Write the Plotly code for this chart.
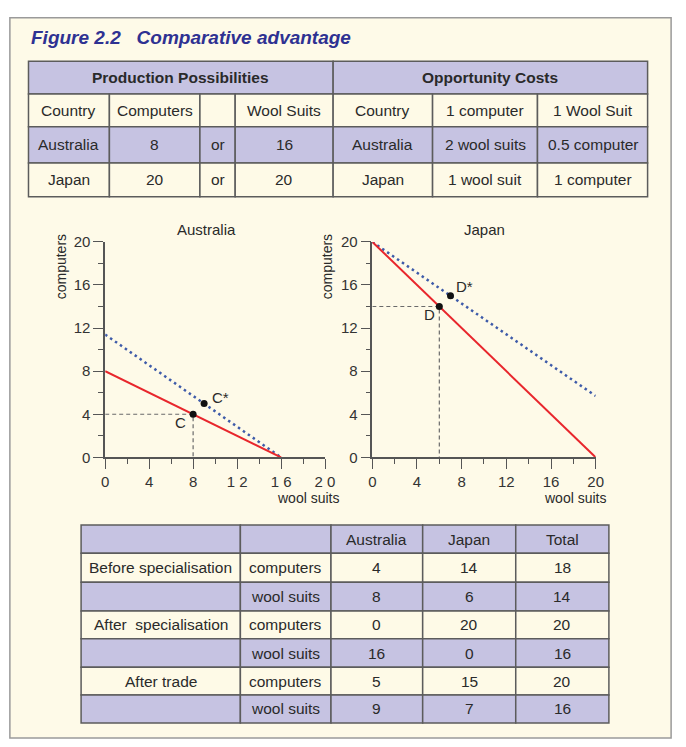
import plotly.graph_objects as go

W, H = 686, 747

# ---------------- data ----------------
title_text = "Figure 2.2   Comparative advantage"

top_header = ["Production Possibilities", "Opportunity Costs"]
top_rows = [
    ["Country", "Computers", "", "Wool Suits", "Country", "1 computer", "1 Wool Suit"],
    ["Australia", "8", "or", "16", "Australia", "2 wool suits", "0.5 computer"],
    ["Japan", "20", "or", "20", "Japan", "1 wool suit", "1 computer"],
]

bottom_header = ["", "", "Australia", "Japan", "Total"]
bottom_rows = [
    ["Before specialisation", "computers", "4", "14", "18"],
    ["", "wool suits", "8", "6", "14"],
    ["After  specialisation", "computers", "0", "20", "20"],
    ["", "wool suits", "16", "0", "16"],
    ["After trade", "computers", "5", "15", "20"],
    ["", "wool suits", "9", "7", "16"],
]

# Australia PPF and trade line (wool suits, computers)
aus_ppf_wool = [0, 16]
aus_ppf_comp = [8, 0]
aus_trade_wool = [0, 16]
aus_trade_comp = [11.4, 0]
aus_C = (8, 4)
aus_Cstar = (9, 5)

# Japan PPF and trade line
jap_ppf_wool = [0, 20]
jap_ppf_comp = [20, 0]
jap_trade_wool = [0, 20]
jap_trade_comp = [20, 5.7]
jap_D = (6, 14)
jap_Dstar = (7, 15)

tick_vals = [0, 4, 8, 12, 16, 20]
tick_text = ["0", "4", "8", "12", "16", "20"]
aus_x_tick_text = ["0", "4", "8", "1 2", "1 6", "2 0"]

# ---------------- styling ----------------
LAV = "#C6C3E2"
CREAM = "#FEFAE7"
BG = "#FEFAE8"
BORDER = "#5c5c5c"
AXC = "#555555"
TXT = "#2a2a2a"
FONT = "Liberation Sans, Arial, sans-serif"
RED = "#E8262C"
BLUE = "#3E5BA9"
TS = 15.5  # table font size


def px(x):
    return x / W


def py(y):
    return 1 - y / H


shapes = []
annotations = []

# outer panel
shapes.append(dict(type="rect", xref="paper", yref="paper",
                   x0=px(6), x1=px(681), y0=py(746), y1=py(9),
                   fillcolor=BG, line=dict(color="#9a9a9a", width=1.5), layer="below"))

annotations.append(dict(x=px(26), y=py(29), xref="paper", yref="paper",
                        text="<b><i>" + title_text.replace(" ", "&nbsp;") + "</i></b>",
                        showarrow=False, xanchor="left", yanchor="middle",
                        font=dict(family=FONT, size=19, color="#2E3192")))


def cell(x0, x1, y0, y1, fill, text, size=TS, bold=False):
    shapes.append(dict(type="rect", xref="paper", yref="paper",
                       x0=px(x0), x1=px(x1), y0=py(y1), y1=py(y0),
                       fillcolor=fill, line=dict(color=BORDER, width=1.5), layer="below"))
    if text:
        t = "<b>" + text + "</b>" if bold else text
        annotations.append(dict(x=px((x0 + x1) / 2), y=py((y0 + y1) / 2),
                                xref="paper", yref="paper", text=t.replace("  ", "&nbsp;&nbsp;"),
                                showarrow=False, xanchor="center", yanchor="middle",
                                font=dict(family=FONT, size=size, color=TXT)))


# top table
tcols = [25, 107.6, 200, 236, 336, 437.5, 544.6, 657]
trows = [53.5, 87, 120.5, 157.5, 192]
cell(tcols[0], tcols[4], trows[0], trows[1], LAV, top_header[0], TS, True)
cell(tcols[4], tcols[7], trows[0], trows[1], LAV, top_header[1], TS, True)
for r, row in enumerate(top_rows):
    fill = LAV if r == 1 else CREAM
    for c, txt in enumerate(row):
        cell(tcols[c], tcols[c + 1], trows[r + 1], trows[r + 2], fill, txt)

# bottom table
bcols = [78.7, 241.3, 333.8, 427.4, 522.4, 617.5]
brows = [528, 557, 586.5, 616, 644.5, 673.5, 702, 730.5]
for c, txt in enumerate(bottom_header):
    cell(bcols[c], bcols[c + 1], brows[0], brows[1], LAV, txt)
for r, row in enumerate(bottom_rows):
    fill = CREAM if r % 2 == 0 else LAV
    for c, txt in enumerate(row):
        cell(bcols[c], bcols[c + 1], brows[r + 1], brows[r + 2], fill, txt)

# ---------------- charts ----------------
fig = go.Figure()


def add_chart(xa, ya, ppf_w, ppf_c, tr_w, tr_c, P, Pstar):
    fig.add_trace(go.Scatter(x=[0, P[0], P[0]], y=[P[1], P[1], 0], mode="lines",
                             line=dict(color="#6a6a6a", width=1.2, dash="4px,3px"),
                             xaxis=xa, yaxis=ya, hoverinfo="skip"))
    fig.add_trace(go.Scatter(x=tr_w, y=tr_c, mode="lines",
                             line=dict(color=BLUE, width=2.5, dash="2.5px,3.5px"),
                             xaxis=xa, yaxis=ya))
    fig.add_trace(go.Scatter(x=ppf_w, y=ppf_c, mode="lines",
                             line=dict(color=RED, width=2),
                             xaxis=xa, yaxis=ya))
    fig.add_trace(go.Scatter(x=[P[0], Pstar[0]], y=[P[1], Pstar[1]], mode="markers",
                             marker=dict(color="#111111", size=7),
                             xaxis=xa, yaxis=ya))


add_chart("x", "y", aus_ppf_wool, aus_ppf_comp, aus_trade_wool, aus_trade_comp, aus_C, aus_Cstar)
add_chart("x2", "y2", jap_ppf_wool, jap_ppf_comp, jap_trade_wool, jap_trade_comp, jap_D, jap_Dstar)

axis_common = dict(range=[0, 20], tickvals=tick_vals, ticktext=tick_text,
                   showgrid=False, zeroline=False,
                   showline=True, linecolor=AXC, linewidth=1.5,
                   ticks="outside", ticklen=10, tickwidth=1.3, tickcolor=AXC,
                   tickfont=dict(family=FONT, size=15, color="#333333"),
                   minor=dict(dtick=2, tick0=0, ticks="outside", ticklen=5, tickwidth=1.2,
                              tickcolor=AXC, showgrid=False),
                   fixedrange=True)

ydom = [py(458.8), py(238.3)]
fig.update_layout(
    xaxis=dict(axis_common, domain=[px(103.3), px(327.7)], anchor="y", ticktext=aus_x_tick_text),
    yaxis=dict(axis_common, domain=ydom, anchor="x"),
    xaxis2=dict(axis_common, domain=[px(376), px(604)], anchor="y2"),
    yaxis2=dict(axis_common, domain=ydom, anchor="x2"),
)


# point labels
def pt_label(xa, ya, P, text, xanchor, xshift, yshift):
    annotations.append(dict(x=P[0], y=P[1], xref=xa, yref=ya, text=text, showarrow=False,
                            xanchor=xanchor, yanchor="middle", xshift=xshift, yshift=yshift,
                            font=dict(family=FONT, size=15, color=TXT)))


pt_label("x", "y", aus_Cstar, "C*", "left", 6, 6)
pt_label("x", "y", aus_C, "C", "right", -5, -8)
pt_label("x2", "y2", jap_Dstar, "D*", "left", 4, 9)
pt_label("x2", "y2", jap_D, "D", "right", -2, -8)

# chart titles & axis titles
for xc, t in [(207, "Australia"), (490, "Japan")]:
    annotations.append(dict(x=px(xc), y=py(226), xref="paper", yref="paper", text=t,
                            showarrow=False, xanchor="center", yanchor="middle",
                            font=dict(family=FONT, size=15, color=TXT)))
for xc in [58.5, 330]:
    annotations.append(dict(x=px(xc), y=py(264), xref="paper", yref="paper", text="computers",
                            showarrow=False, xanchor="center", yanchor="middle", textangle=-90,
                            font=dict(family=FONT, size=14, color=TXT)))
for xr in [344, 617]:
    annotations.append(dict(x=px(xr), y=py(500), xref="paper", yref="paper", text="wool suits",
                            showarrow=False, xanchor="right", yanchor="middle",
                            font=dict(family=FONT, size=14, color=TXT)))

fig.update_layout(
    width=W, height=H, autosize=False,
    margin=dict(l=0, r=0, t=0, b=0, pad=0),
    paper_bgcolor="white", plot_bgcolor="rgba(0,0,0,0)",
    showlegend=False, shapes=shapes, annotations=annotations,
)

fig.write_html("out.html", config={"displayModeBar": False},
               post_script="document.body.style.margin='0';")
